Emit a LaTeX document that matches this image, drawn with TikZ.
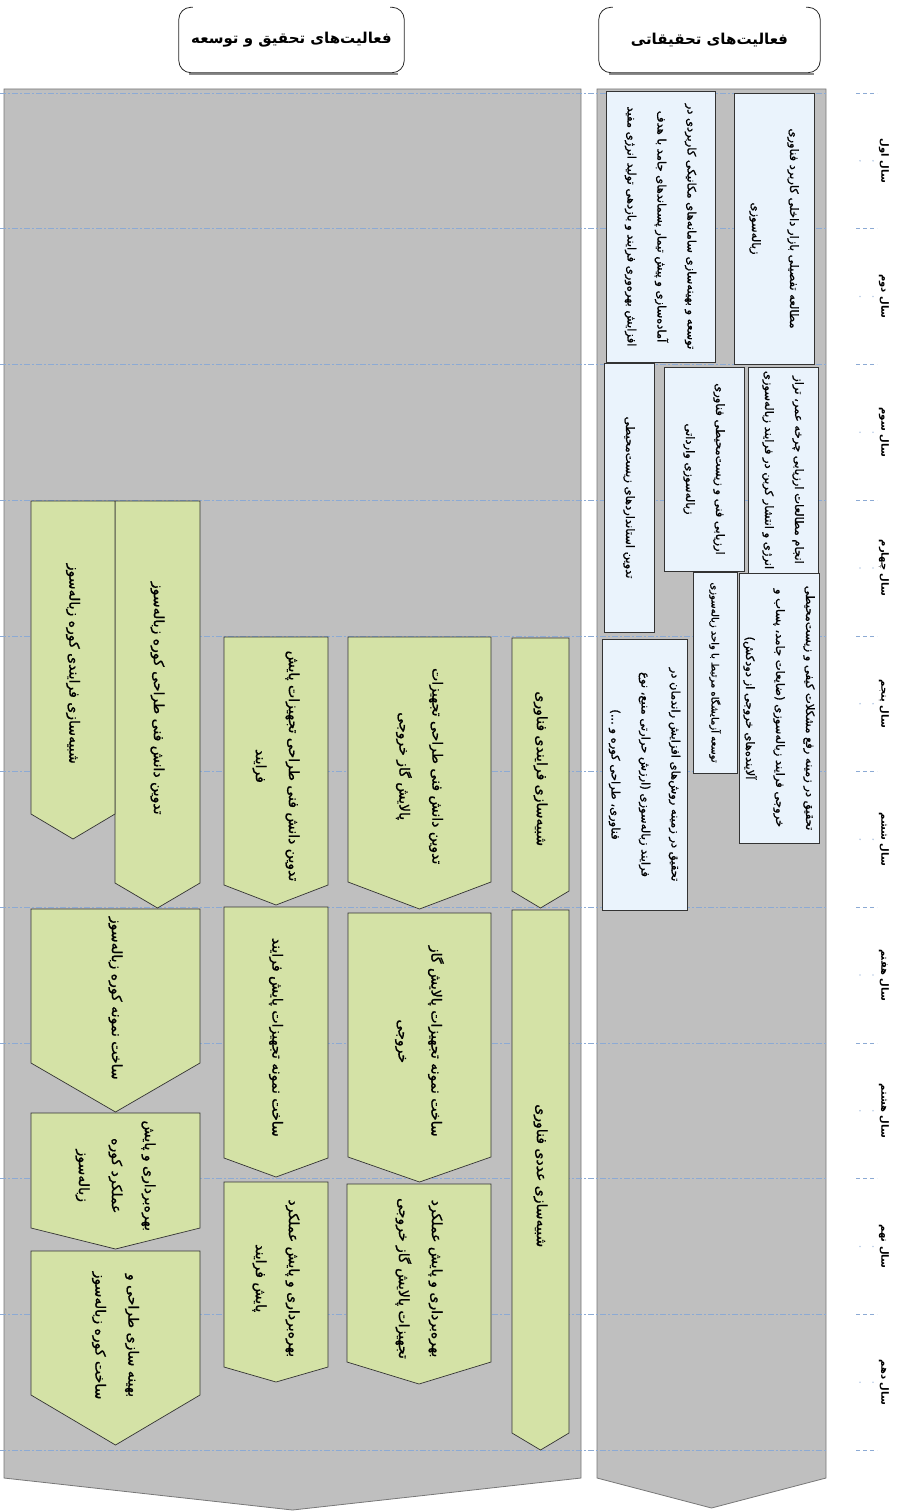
\documentclass[tikz,border=0pt]{standalone}
\usepackage{fontspec}
\newfontfamily\farsi[Script=Arabic]{DejaVu Sans}
\newfontfamily\farsim[Script=Arabic,FakeBold=1]{DejaVu Sans}
\TeXXeTstate=1
\usetikzlibrary{positioning}
\definecolor{panelG}{RGB}{191,191,191}
\definecolor{panelE}{RGB}{120,120,120}
\definecolor{taskB}{RGB}{234,243,252}
\definecolor{stageG}{RGB}{212,226,166}
\definecolor{rowB}{RGB}{140,170,212}
\colorlet{edge}{black!80}
\newcommand{\zw}{^^^^200c}
\newcommand{\fa}[1]{\beginR #1\endR}
\tikzset{
  panel/.style    ={fill=panelG, draw=panelE, line width=0.8pt},
  rowline/.style  ={draw=rowB, line width=0.6pt,
                    dash pattern=on 6pt off 2pt on 2pt off 2pt},
  hdr/.style      ={font=\farsi\bfseries\fontsize{15}{18}\selectfont,
                    minimum height=65pt, inner sep=0pt},
  hdrframe/.style ={draw=black!85, line width=0.8pt, rounded corners=12pt},
  task/.style     ={draw=edge, fill=taskB, line width=0.7pt},
  tasktext/.style ={rotate=-90, align=center, inner sep=0pt,
                    font=\farsim\fontsize{11.5}{30}\selectfont},
  stage/.style    ={draw=edge, fill=stageG, line width=0.7pt},
  stagetext/.style={rotate=-90, align=center, inner sep=0pt,
                    font=\farsim\fontsize{14}{33}\selectfont},
  yearlbl/.style  ={rotate=-90, inner sep=0pt,
                    font=\farsi\bfseries\fontsize{10}{12}\selectfont},
}
\begin{document}
\begin{tikzpicture}[x=1pt, y=-1pt]
\useasboundingbox (0,0) rectangle (905,1511);

% column headers
\node[hdr, minimum width=225pt] (hRD)  at (291.5,40) {\fa{فعالیت\zw های تحقیق و توسعه}};
\node[hdr, minimum width=221pt] (hRes) at (709.5,40) {\fa{فعالیت\zw های تحقیقاتی}};
\foreach \h in {hRD, hRes} {
  \draw[black!45, line width=1.4pt]
    ([xshift=10pt, yshift=-1.4pt]\h.south west) -- ([xshift=-6pt, yshift=-1.4pt]\h.south east);
  \draw[hdrframe] ([xshift=14pt]\h.north west) -- (\h.north west) -- (\h.south west)
    -- (\h.south east) -- (\h.north east) -- ([xshift=-14pt]\h.north east);
}

% background panels
\draw[panel] (4,89) -- (581,89) -- (581,1478) -- (292.5,1510) -- (4,1478) -- cycle;
\draw[panel] (597,89) -- (826,89) -- (826,1478) -- (711.5,1508) -- (597,1478) -- cycle;

% year grid
\foreach \k in {0,...,10} {
  \draw[rowline] (0,{93+135.7*\k}) -- (826,{93+135.7*\k});
  \draw[rowline, dash pattern=on 4pt off 3pt] (856,{93+135.7*\k}) -- (877,{93+135.7*\k});
}
\foreach \k in {0,...,9} {
  \fill[rowB!60] (860,{93+135.7*(\k+0.5)}) circle[radius=0.9pt]
                 (873,{93+135.7*(\k+0.5)}) circle[radius=0.9pt];
}
\foreach \yr [count=\i] in {اول,دوم,سوم,چهارم,پنجم,ششم,هفتم,هشتم,نهم,دهم}
  \node[yearlbl] (yr\i) at (884,{93+135.7*(\i-0.5)}) {\fa{سال \yr}};

% research activities
\foreach \nm/\xa/\xb/\ya/\yb/\txt in {
  t1/734/814/93/364/{\fa{مطالعه تفصیلی بازار داخلی کاربرد فناوری}\\[8pt]\fa{زباله\zw سوزی}},
  t2/606/715/91/362/{\fa{توسعه و بهینه\zw سازی سامانه\zw های مکانیکی کاربردی در}\\\fa{آماده\zw سازی و پیش تیمار پسماندهای جامد با هدف}\\\fa{افزایش بهره\zw وری فرایند و بازدهی تولید انرژی مفید}},
  t3/748/818/367/573/{\fa{انجام مطالعات ارزیابی چرخه عمر، تراز}\\\fa{انرژی و انتشار کربن در فرایند زباله\zw سوزی}},
  t4/664/744/367/571/{\fa{ارزیابی فنی و زیست\zw محیطی فناوری}\\\fa{زباله\zw سوزی وارداتی}},
  t5/604/654/363/632/{\fa{تدوین استانداردهای زیست\zw محیطی}},
  t6/739/819/573/843/{\fa{تحقیق در زمینه رفع مشکلات کیفی و زیست\zw محیطی}\\\fa{خروجی فرایند زباله\zw سوزی (ضایعات جامد، پساب و}\\\fa{آلاینده\zw های خروجی از دودکش)}},
  t7/693/737/572/773/{\fontsize{10}{20}\selectfont\fa{توسعه آزمایشگاه مرتبط با واحد زباله\zw سوزی}},
  t8/602/687/639/910/{\fa{تحقیق در زمینه روش\zw های افزایش راندمان در}\\\fa{فرایند زباله\zw سوزی (ارزش حرارتی منبع، نوع}\\\fa{فناوری، طراحی کوره و ...)}}} {
  \draw[task] (\xa,\ya) rectangle (\xb,\yb);
  \node[tasktext] (\nm) at ({(\xa+\xb)/2},{(\ya+\yb)/2}) {\txt};
}

% R&D activities
\foreach \nm/\xa/\xb/\ya/\yb/\yt/\txt in {
  sA1/512/569/638/891/908/{\fa{شبیه\zw سازی فرایندی فناوری}},
  sA2/512/569/910/1433/1450/{\fa{شبیه\zw سازی عددی فناوری}},
  sB1/348/491/637/882/909/{\fa{تدوین دانش فنی طراحی تجهیزات}\\\fa{پالایش گاز خروجی}},
  sB2/348/491/913/1157/1182/{\fa{ساخت نمونه تجهیزات پالایش گاز}\\\fa{خروجی}},
  sB3/347/491/1184/1362/1384/{\fa{بهره\zw برداری و پایش عملکرد}\\\fa{تجهیزات پالایش گاز خروجی}},
  sC1/224/328/637/885/905/{\fa{تدوین دانش فنی طراحی تجهیزات پایش}\\\fa{فرایند}},
  sC2/224/328/907/1158/1177/{\fa{ساخت نمونه تجهیزات پایش فرایند}},
  sC3/224/328/1182/1367/1382/{\fa{بهره\zw برداری و پایش عملکرد}\\\fa{پایش فرایند}},
  sD1/115/200/501/883/908/{\fa{تدوین دانش فنی طراحی کوره زباله\zw سوز}},
  sE1/31/115/501/814/839/{\fa{شبیه\zw سازی فرایندی کوره زباله\zw سوز}},
  sF1/31/200/909/1063/1112/{\fa{ساخت نمونه کوره زباله\zw سوز}},
  sF2/31/200/1113/1228/1249/{\fa{بهره\zw برداری و پایش}\\\fa{عملکرد کوره}\\\fa{زباله\zw سوز}},
  sF3/31/200/1251/1395/1445/{\fa{بهینه سازی طراحی و}\\\fa{ساخت کوره زباله\zw سوز}}} {
  \draw[stage] (\xa,\ya) -- (\xb,\ya) -- (\xb,\yb) -- ({(\xa+\xb)/2},\yt) -- (\xa,\yb) -- cycle;
  \node[stagetext] (\nm) at ({(\xa+\xb)/2},{(2*\ya+\yb+\yt)/4}) {\txt};
}

\end{tikzpicture}
\end{document}
